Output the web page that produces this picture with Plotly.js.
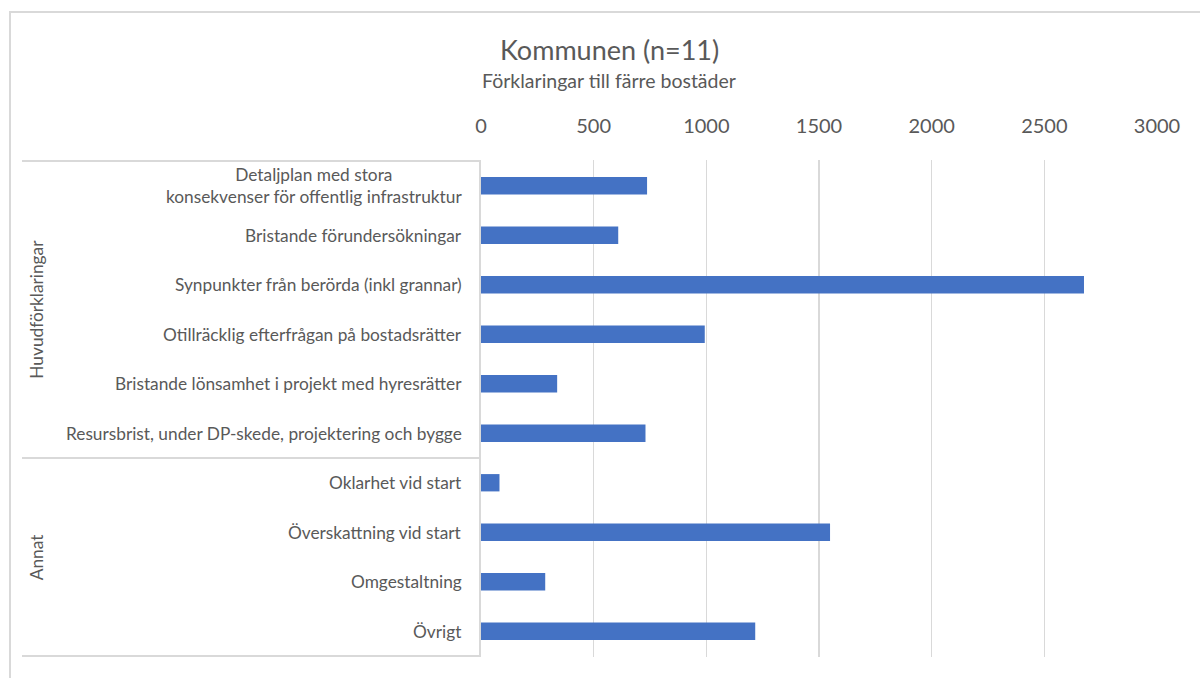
<!DOCTYPE html>
<html>
<head>
<meta charset="utf-8">
<script src="https://cdn.plot.ly/plotly-3.0.1.min.js"></script>
<style>
  html, body { margin: 0; padding: 0; background: #ffffff; }
  #frame { position: absolute; left: 9px; top: 11px; width: 1191px; height: 667px;
           border-left: 2px solid #d9d9d9; border-top: 2px solid #d9d9d9; box-sizing: border-box; }
  #chart { position: absolute; left: 0; top: 0; width: 1200px; height: 678px; }
</style>
</head>
<body>
<div id="frame"></div>
<div id="chart"></div>
<script>
// ---- data ----
const categories = [
  "Detaljplan med stora<br>konsekvenser för offentlig infrastruktur",
  "Bristande förundersökningar",
  "Synpunkter från berörda (inkl grannar)",
  "Otillräcklig efterfrågan på bostadsrätter",
  "Bristande lönsamhet i projekt med hyresrätter",
  "Resursbrist, under DP-skede, projektering och bygge",
  "Oklarhet vid start",
  "Överskattning vid start",
  "Omgestaltning",
  "Övrigt"
];
const values = [737, 609, 2676, 993, 338, 730, 82, 1549, 285, 1217];
const groupNames = ["Huvudförklaringar", "Annat"];
const groupSizes = [6, 4];
const xTicks = [0, 500, 1000, 1500, 2000, 2500, 3000];
const titleText = "Kommunen (n=11)";
const subtitleText = "Förklaringar till färre bostäder";

// ---- styling ----
const FONT = "Lato, 'Open Sans', sans-serif";
const TEXT = "#595959";
const GRID = "#d9d9d9";
const BAR = "#4472C4";
const labelColLeft = -0.679;   // left end of the category label box (paper units)
const groupLabelX = -0.658;    // position of rotated group labels (paper units)

const trace = {
  type: "bar",
  orientation: "h",
  y: categories,
  x: values,
  marker: { color: BAR },
  hoverinfo: "x+y"
};

const annotations = [];
categories.forEach(function (c) {
  annotations.push({
    xref: "paper", yref: "y", x: 0, y: c, xanchor: "right", xshift: -17,
    text: c, showarrow: false, align: "center",
    font: { family: FONT, size: 17.3, color: TEXT }
  });
});

const shapes = [];
let start = 0;
groupNames.forEach(function (g, i) {
  const end = start + groupSizes[i];
  annotations.push({
    xref: "paper", yref: "y", x: groupLabelX, y: (start + end - 1) / 2,
    xanchor: "center", yanchor: "middle",
    text: g, showarrow: false, textangle: -90,
    font: { family: FONT, size: 17.3, color: TEXT }
  });
  shapes.push({
    type: "line", xref: "paper", yref: "y", x0: labelColLeft, x1: 0,
    y0: start - 0.5, y1: start - 0.5, line: { color: GRID, width: 2 }
  });
  start = end;
});
shapes.push({
  type: "line", xref: "paper", yref: "y", x0: labelColLeft, x1: 0,
  y0: start - 0.5, y1: start - 0.5, line: { color: GRID, width: 2 }
});

// subtitle
annotations.push({
  xref: "paper", yref: "paper", x: 0.19, y: 1.159, xanchor: "center", yanchor: "middle",
  text: subtitleText, showarrow: false,
  font: { family: FONT, size: 19.5, color: TEXT }
});

const layout = {
  width: 1200, height: 678,
  paper_bgcolor: "rgba(0,0,0,0)", plot_bgcolor: "rgba(0,0,0,0)",
  margin: { l: 481, r: 43, t: 160, b: 21 },
  font: { family: FONT, color: TEXT },
  showlegend: false,
  bargap: 0.65,
  title: {
    text: titleText,
    font: { family: FONT, size: 27, color: TEXT },
    x: 0.508, xanchor: "center", xref: "container",
    y: 1 - 51 / 678, yanchor: "middle", yref: "container"
  },
  xaxis: {
    side: "top", range: [0, 3000], tickvals: xTicks, ticktext: xTicks.map(String),
    showgrid: true, gridcolor: GRID, gridwidth: 1.5, zeroline: false,
    showline: false, ticks: "outside", ticklen: 18, tickcolor: "rgba(0,0,0,0)",
    tickfont: { family: FONT, size: 20, color: TEXT }, fixedrange: true
  },
  yaxis: {
    type: "category", autorange: "reversed", showticklabels: false,
    showgrid: false, zeroline: false, showline: true, linecolor: GRID, linewidth: 2,
    ticks: "", fixedrange: true
  },
  annotations: annotations,
  shapes: shapes
};

Plotly.newPlot("chart", [trace], layout, { displayModeBar: false, staticPlot: true });
</script>
</body>
</html>
